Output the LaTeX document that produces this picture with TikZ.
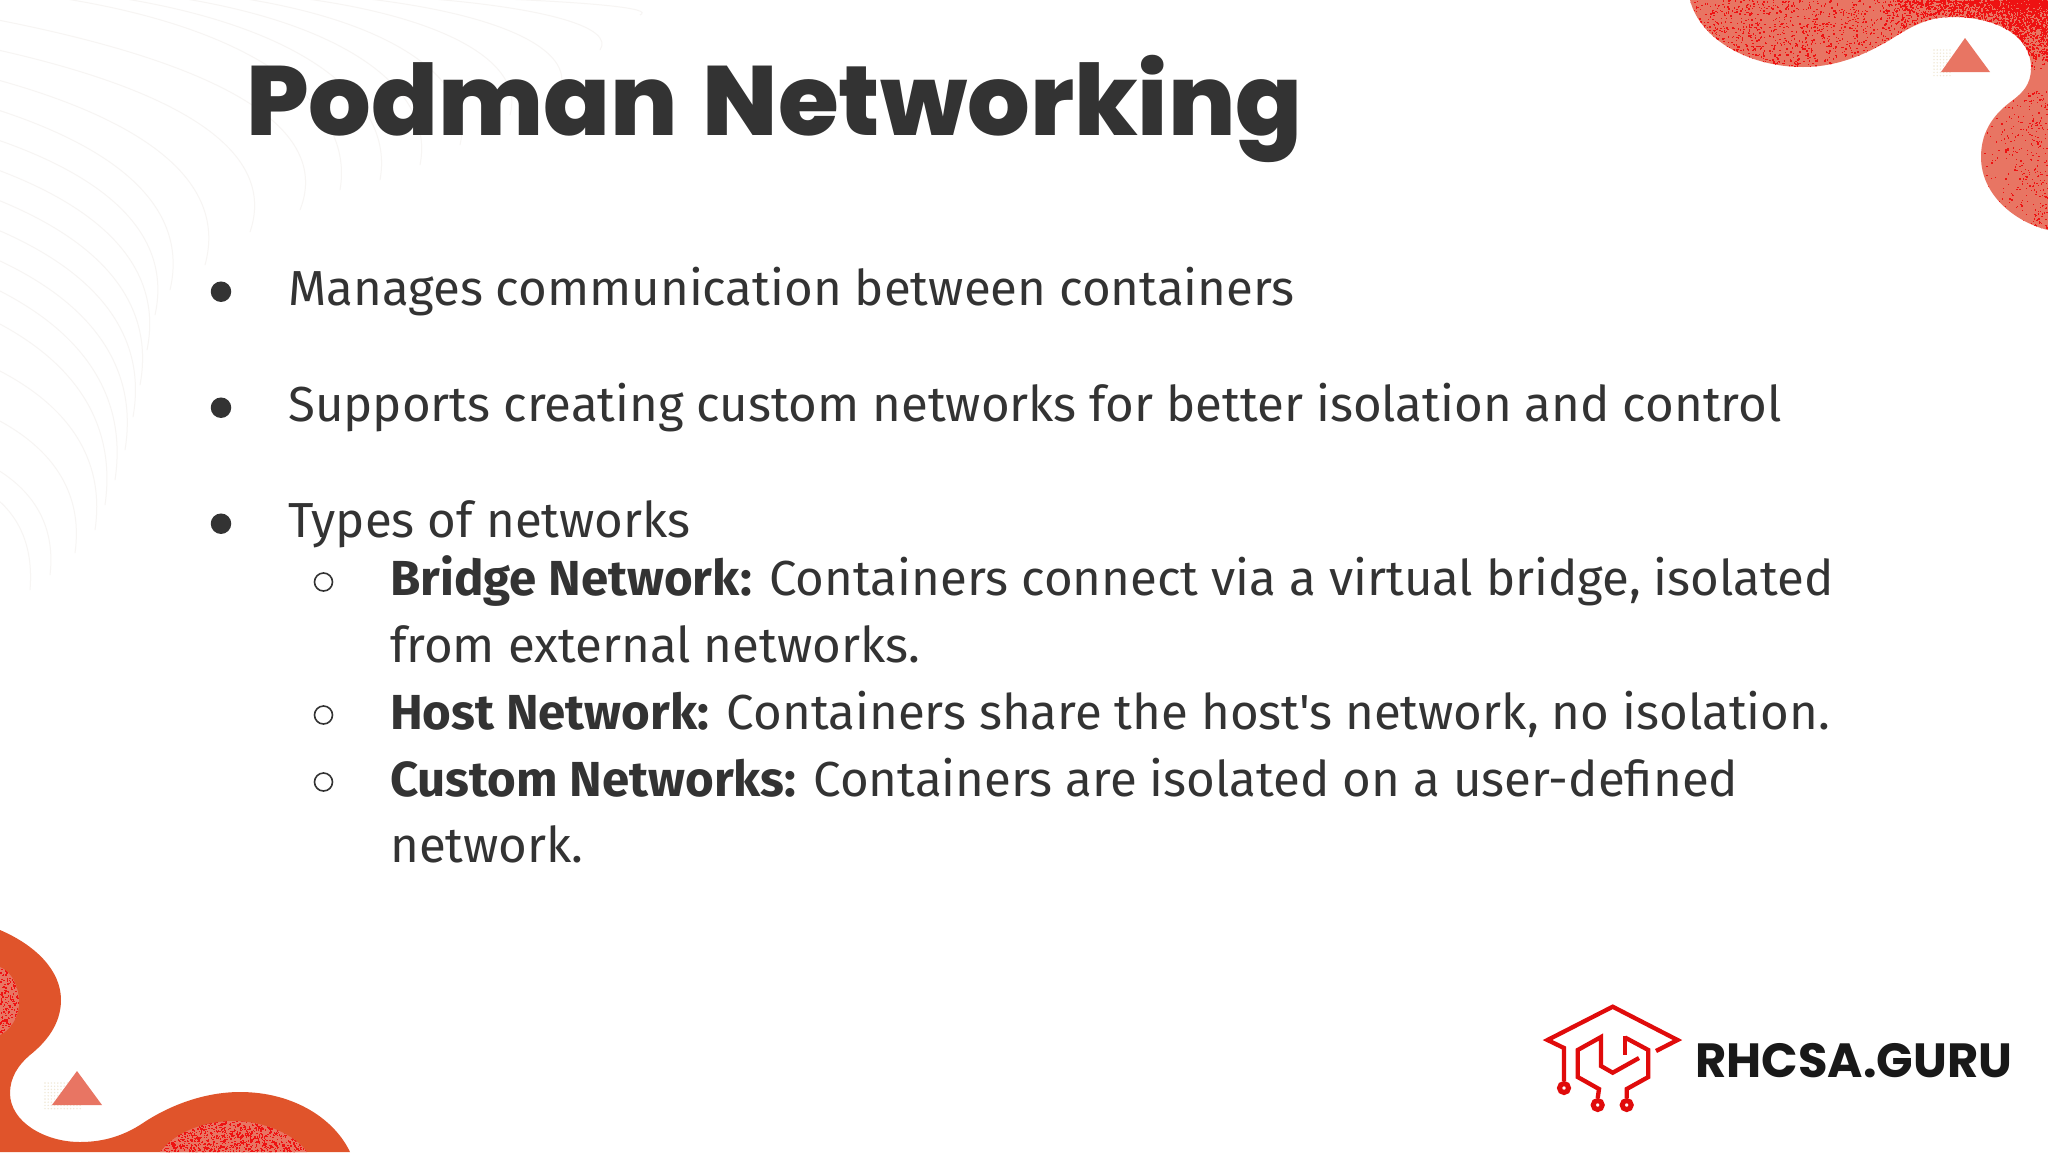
\documentclass[tikz,border=0pt]{standalone}
\usepackage{fontspec}
\newfontfamily\bodyfont{Fira Sans}[BoldFont=* Bold]
\newfontfamily\titlefont{Poppins}[UprightFont=* ExtraBold]
\newfontfamily\logofont{Poppins}[UprightFont=* Bold]
\definecolor{ink}{HTML}{333333}
\definecolor{salmon}{HTML}{E87563}
\definecolor{orangeblob}{HTML}{E0542B}
\definecolor{speck}{HTML}{EE1212}
\definecolor{logored}{HTML}{E00B0B}
\definecolor{wave}{HTML}{F7F5F3}
\definecolor{griddot}{HTML}{F0E8D6}
\tikzset{
  bodytext/.style={anchor=base west,inner sep=0pt,text=ink,font=\bodyfont\fontsize{49.2}{49.2}\selectfont},
  bigdot/.style={circle,fill=ink,inner sep=0pt,minimum size=20.5pt},
  smalldot/.style={circle,draw=ink,line width=1.6pt,inner sep=0pt,minimum size=18pt},
  logoline/.style={draw=logored,line width=4.3pt,line join=miter,fill=none},
  logopin/.style={circle,draw=logored,line width=5pt,fill=white,inner sep=0pt,minimum size=9pt},
  tri/.style={fill=salmon,draw=none}
}
\begin{document}
\begin{tikzpicture}[x=1pt,y=-1pt]
\useasboundingbox (0,0) rectangle (2048,1152);
\fill[white] (0,0) rectangle (2048,1152);
% faint background waves
\foreach \sy/\ex/\ey in {500/30/590,470/50/575,420/75/553,370/95/530,323/105/505,290/115/480,260/125/450,230/133/417,200/140/385,170/147/350,140/155/315,110/170/290,80/205/265,50/250/232,20/300/210}{
  \draw[wave,line width=1pt] (-2,\sy) .. controls ({\ex*0.8},{\sy+(\ey-\sy)*0.25}) and ({\ex*1.1},{\sy+(\ey-\sy)*0.6}) .. (\ex,\ey);
}
\foreach \sx/\ex/\ey in {60/340/190,120/380/180,180/420/165,240/460/145,300/510/115,360/560/90,420/600/50,480/640/15}{
  \draw[wave,line width=1pt] (\sx,-2) .. controls ({\sx+(\ex-\sx)*0.7},{\ey*0.15}) and ({\ex+15},{\ey*0.55}) .. (\ex,\ey);
}
% top right blob
\def\blobTR{(1690,0) .. controls (1700,40) and (1750,67) .. (1803,67) .. controls (1840,67) and (1870,52) .. (1893,38) .. controls (1915,24) and (1930,17) .. (1953,17) .. controls (1995,17) and (2031,35) .. (2031,68) .. controls (2031,85) and (2022,93) .. (2013,100) .. controls (1995,113) and (1981,130) .. (1981,157) .. controls (1981,195) and (2015,222) .. (2048,230) -- (2048,0) -- cycle}
\fill[salmon] \blobTR;
\pgfmathsetseed{4242}
\begin{scope}
  \clip \blobTR;
  \foreach \i in {1,...,2000}{ \fill[speck] ({1690+358*rnd},{70*rnd}) rectangle ++(1.4,1.4); }
  \foreach \i in {1,...,1500}{ \fill[speck] ({1880+168*sqrt(rnd)},{40*rnd*rnd}) rectangle ++(1.5,1.5); }
  \foreach \i in {1,...,600}{ \fill[speck] ({2000+48*rnd},{60*rnd}) rectangle ++(1.4,1.4); }
  \foreach \i in {1,...,350}{ \fill[speck] ({1980+68*sqrt(rnd)},{90+140*rnd}) rectangle ++(1.3,1.3); }
\end{scope}
% bottom left blob
\def\innerA{(0,967) .. controls (12,972) and (19,987) .. (19,1002) .. controls (19,1018) and (10,1030) .. (0,1035) -- cycle}
\def\innerB{(160,1152) .. controls (175,1132) and (205,1121) .. (233,1121) .. controls (265,1121) and (295,1135) .. (307,1152) -- cycle}
\fill[orangeblob] (0,930) .. controls (35,945) and (61,970) .. (61,1000) .. controls (61,1025) and (45,1043) .. (30,1055) .. controls (18,1065) and (10,1078) .. (10,1093) .. controls (10,1122) and (45,1142) .. (80,1142) .. controls (105,1142) and (125,1135) .. (143,1123) .. controls (170,1105) and (205,1092) .. (240,1092) .. controls (295,1092) and (335,1120) .. (350,1152) -- (0,1152) -- cycle;
\fill[salmon] \innerA;
\fill[salmon] \innerB;
\begin{scope}
  \clip \innerA;
  \foreach \i in {1,...,250}{ \fill[speck] ({20*rnd},{965+72*rnd}) rectangle ++(1.4,1.4); }
\end{scope}
\begin{scope}
  \clip \innerB;
  \foreach \i in {1,...,1100}{ \fill[speck] ({160+148*rnd},{1120+32*rnd}) rectangle ++(1.4,1.4); }
\end{scope}
% triangles with dot grids
\foreach \ix in {0,...,5}{\foreach \iy in {0,...,8}{\fill[griddot] ({1934+\ix*3.2},{50+\iy*3.2}) circle (0.8);}}
\foreach \ix in {0,...,11}{\foreach \iy in {0,...,8}{\fill[griddot] ({45+\ix*3.2},{1083+\iy*3.2}) circle (0.8);}}
\fill[tri] (1965,38) -- (1941,72) -- (1990,72) -- cycle;
\fill[tri] (77,1071) -- (52,1105) -- (102,1105) -- cycle;
% title
\node[anchor=base west,inner sep=0pt,text=ink,font=\titlefont\fontsize{98.5}{98.5}\selectfont] (title) at (246,135) {Podman\hspace{6pt} Networking};
% bullets
\node[bigdot] (b1) at (221,291.7) {};
\node[bigdot] (b2) at (221,407.7) {};
\node[bigdot] (b3) at (221,523.7) {};
\node[smalldot] (s1) at (323.5,582) {};
\node[smalldot] (s2) at (323.5,715) {};
\node[smalldot] (s3) at (323.5,782) {};
\node[bodytext] (t1) at (288,305) {Manages communication between containers};
\node[bodytext] (t2) at (288,421) {Supports creating custom networks for better isolation and control};
\node[bodytext] (t3) at (288,537) {Types of networks};
\node[bodytext] (t4) at (390,595) {\textbf{Bridge Network:} Containers connect via a virtual bridge, isolated};
\node[bodytext] (t5) at (390,662) {from external networks.};
\node[bodytext] (t6) at (390,729) {\textbf{Host Network:} Containers share the host's network, no isolation.};
\node[bodytext] (t7) at (390,796) {\textbf{Custom Networks:} Containers are isolated on a user-defined};
\node[bodytext] (t8) at (390,862) {network.};
% logo
\coordinate (rL) at (1547.5,1040);
\coordinate (rT) at (1612.7,1006.7);
\coordinate (rR) at (1677.5,1040);
\node[logopin] (p1) at (1564,1088) {};
\node[logopin] (p2) at (1597.7,1105) {};
\node[logopin] (p3) at (1626.7,1105) {};
\draw[logoline] (p1.north) -- (1564,1048) -- (rL) -- (rT) -- (rR) -- (1656,1051);
\draw[logoline] (p2.north) -- (1599,1089) -- (1577.7,1077) -- (1577.7,1050) -- (1601,1037) -- (1601,1066) -- (1612.7,1072.7) -- (1639,1058);
\draw[logoline] (p3.north) -- (1626.7,1089) -- (1648.3,1077) -- (1648.3,1050) -- (1625,1037.5);
\draw[logoline] (1625,1036) -- (1625,1055);
\node[anchor=base west,inner sep=0pt,text=black!90,font=\logofont\fontsize{48}{48}\selectfont] (logo) at (1695,1077) {RHCSA.GURU};
\end{tikzpicture}
\end{document}
